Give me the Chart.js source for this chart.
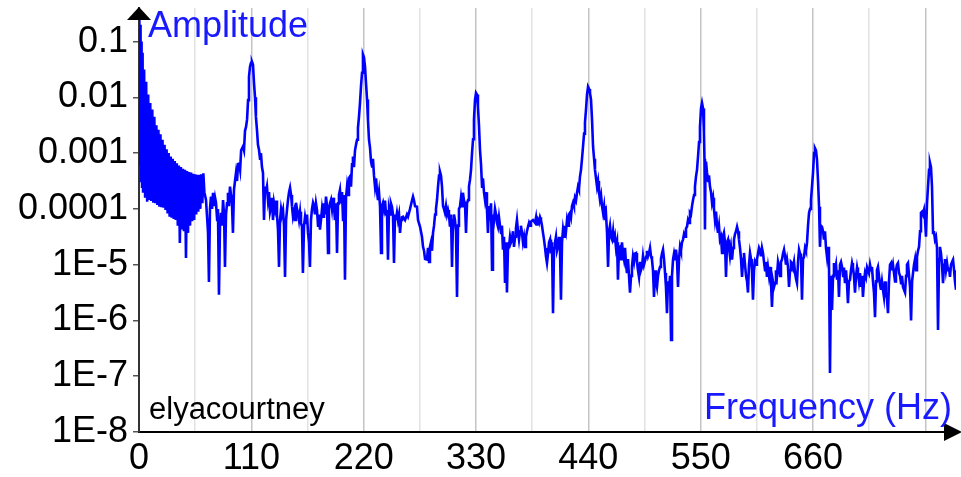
<!DOCTYPE html>
<html>
<head>
<meta charset="utf-8">
<script src="https://cdn.jsdelivr.net/npm/chart.js@4.4.1/dist/chart.umd.min.js"></script>
<style>
  html, body { margin: 0; padding: 0; background: #fff; }
  #wrap { width: 961px; height: 477px; position: relative; }
</style>
</head>
<body>
<div id="wrap"><canvas id="spectrum"></canvas></div>
<script>
// spectrum: [frequency Hz, log10 amplitude]
const lowEnd = [
  [0.3,-0.46],[1,-3.2],[1.5,-0.7],[2,-3.5],[2.5,-1.0],[3,-3.6],[3.5,-1.2],[4,-3.71],
  [5,-1.5],[6,-3.8],[7,-1.72],[8,-3.87],[9,-1.95],[10,-3.84],[11,-2.1],[12,-3.86],
  [13,-2.22],[14,-3.89],[15,-2.35],[16,-3.9],[17,-2.5],[18,-3.93],[19,-2.58],[20,-3.96],
  [21,-2.66],[22,-3.97],[23,-2.76],[24,-3.98],[25,-2.85],[26,-4.02],[27,-2.93],[28,-4.08],
  [29,-3.0],[30,-4.14],[31,-3.06],[32,-4.16],[33,-3.1],[34,-4.18],[35,-3.14],[36,-4.2],
  [37,-3.18],[38,-4.3],[39,-3.22],[40,-4.61],[41,-3.25],[42,-4.37],[43,-3.28],[44,-4.4],
  [45,-3.3],[46,-4.88],[47,-3.32],[48,-4.43],[49,-3.34],[50,-4.3],[51,-3.35],[52,-4.22],
  [53,-3.37],[54,-4.2],[55,-3.38],[56,-4.1],[57,-3.39],[58,-4.05],[59,-3.39],[60,-4.0],
  [61,-3.38],[62,-3.9],[63,-3.36],[64,-3.7]
];
const band110 = [
  [65.6,-3.84],[66.5,-4.1],[67.6,-4.43],[68.5,-5.31],[69.5,-4.0],[70.5,-3.78],[71.5,-4.0],
  [72.5,-3.71],[73.5,-3.95],[74.5,-3.8],[75.4,-3.89],[76.5,-4.2],[77.3,-4.0],[78.3,-5.54],
  [79.3,-4.3],[80.3,-4.07],[81.3,-4.3],[82.3,-3.84],[83.3,-4.1],[84.2,-5.04],[85.2,-4.1],
  [86.2,-3.9],[87.1,-3.71],[88.1,-3.95],[89.1,-3.6],[90.1,-3.75],[91.0,-3.9],[92.0,-4.43],
  [93.0,-3.66],[94.0,-3.5],[95.0,-3.35],[96.0,-3.5],[97.0,-3.2],[97.9,-3.17],[99.0,-3.3],
  [100.0,-2.95],[101.8,-2.88],[102.8,-2.95],[103.8,-2.6],[104.8,-2.53],[105.8,-2.4],
  [106.8,-2.05],[107.7,-1.63],[108.7,-1.45],[109.7,-1.38],[110.6,-1.36],[111.6,-1.41],
  [112.6,-1.74],[113.6,-2.0],[114.5,-2.35],[115.5,-2.58],[116.5,-2.85],[117.5,-2.94],
  [118.5,-3.1],[119.4,-3.0],[120.4,-3.25],[121.4,-3.35],[122.4,-4.2],[123.4,-3.6],
  [124.3,-3.7],[125.3,-3.6],[126.3,-3.84],[127.3,-3.7],[128.3,-4.05],[129.3,-3.96],
  [130.2,-3.8],[131.2,-4.2],[132.2,-3.89],[133.2,-4.0],[134.2,-3.85],[135.1,-4.1],
  [136.1,-4.37],[137.1,-5.04],[138.1,-4.2],[139.1,-4.0],[140.0,-4.1],[141.0,-4.02],
  [142.0,-4.3],[143.0,-5.22],[144.0,-4.2],[145.0,-4.0],[145.9,-3.84],[146.9,-3.7],
  [147.9,-3.62],[148.9,-3.75],[149.8,-3.95],[150.8,-4.14],[151.8,-4.05],[152.8,-4.2],
  [153.7,-3.89],[154.7,-4.0],[155.7,-4.07],[156.7,-4.2],[157.7,-4.05],[158.6,-4.25],
  [159.6,-4.32],[160.5,-5.15],[161.6,-4.3],[162.6,-4.14],[163.6,-4.25],[164.5,-4.1],
  [165.5,-4.43]
];
const band220 = [
  [166.5,-4.6],[167.4,-5.04],[168.4,-4.2],[169.4,-4.0],[170.4,-3.89],[171.4,-3.95],
  [172.3,-4.1],[173.3,-3.9],[174.3,-4.02],[175.3,-4.3],[176.2,-4.1],[177.2,-4.37],
  [178.2,-4.2],[179.2,-4.0],[180.2,-4.14],[181.1,-3.9],[182.1,-4.1],[183.1,-3.78],
  [184.1,-3.95],[185.1,-4.79],[186.0,-4.0],[187.0,-3.9],[188.0,-3.84],[189.0,-4.0],
  [190.0,-3.8],[190.9,-3.96],[191.9,-4.2],[192.9,-3.9],[193.9,-4.79],[194.9,-3.9],
  [195.8,-3.75],[196.8,-3.66],[197.8,-3.9],[198.8,-3.7],[199.8,-4.2],[200.7,-3.75],
  [201.7,-5.27],[202.7,-3.8],[203.7,-3.6],[204.7,-3.75],[205.6,-3.45],[206.6,-3.42],
  [207.6,-3.6],[208.6,-3.2],[209.5,-3.06],[210.5,-3.25],[211.5,-2.95],[212.5,-2.85],
  [213.5,-2.76],[214.4,-2.55],[215.4,-2.35],[216.4,-2.1],[217.4,-1.8],[218.4,-1.56],
  [219.3,-1.23],[220.3,-1.28],[221.3,-1.45],[222.3,-1.75],[223.3,-2.04],[224.2,-2.4],
  [225.2,-2.76],[226.2,-2.9],[227.2,-3.15],[228.2,-3.24],[229.1,-3.1],[230.1,-3.4],
  [231.1,-3.6],[232.1,-3.45],[233.1,-3.7],[234.0,-3.84],[235.0,-3.7],[236.0,-3.95],
  [237.0,-4.79],[237.9,-3.95],[238.9,-3.89],[239.9,-4.0],[240.9,-3.85],[241.9,-4.1],
  [242.8,-4.02],[243.8,-4.91],[244.8,-4.0],[245.8,-4.1],[246.7,-3.9],[247.7,-3.96],
  [248.7,-4.1],[249.7,-4.97],[250.7,-4.1],[251.6,-4.2],[252.6,-4.07],[253.6,-4.2],
  [254.6,-4.1],[255.6,-4.43],[256.6,-4.2],[257.5,-4.15],[258.5,-4.14],[260.5,-4.2],
  [262.4,-4.1],[263.4,-4.14],[265.4,-4.0],[267.3,-3.85],[268.3,-3.78],[269.3,-3.85],
  [270.3,-3.95],[272.2,-3.96],[273.2,-4.2],[275.2,-4.32]
];
const band330 = [
  [277.1,-4.5],[278.1,-4.68],[279.1,-4.75],[280.1,-4.9],[282.0,-4.91],[283.0,-4.7],
  [284.0,-4.95],[284.9,-4.68],[285.9,-4.6],[286.9,-4.75],[287.9,-4.43],[288.9,-4.3],
  [289.9,-4.1],[290.8,-4.0],[291.8,-3.84],[292.8,-3.6],[293.8,-3.4],[294.7,-3.33],
  [295.7,-3.4],[296.7,-3.6],[297.7,-3.95],[298.6,-4.0],[299.6,-4.07],[300.6,-3.95],
  [301.6,-4.1],[302.6,-4.02],[303.5,-4.1],[304.5,-4.32],[305.5,-4.1],[306.5,-5.04],
  [307.5,-4.2],[308.4,-4.1],[309.4,-4.2],[310.4,-4.4],[311.4,-5.58],[312.4,-4.3],
  [313.3,-4.0],[314.3,-3.96],[315.3,-3.8],[316.3,-3.95],[317.2,-3.71],[318.2,-3.85],
  [319.2,-3.9],[320.2,-4.43],[321.2,-3.9],[322.2,-3.84],[323.1,-3.6],[324.1,-3.48],
  [325.1,-3.3],[326.1,-3.0],[327.1,-2.75],[328.0,-2.4],[329.0,-2.05],[330.0,-1.92],
  [331.0,-1.95],[331.9,-2.17],[332.9,-2.5],[333.9,-2.94],[334.9,-3.2],[335.9,-3.6],
  [336.8,-3.45],[337.8,-3.7],[338.8,-3.84],[339.8,-3.7],[340.7,-4.0],[341.7,-4.43],
  [342.7,-3.95],[343.7,-4.07],[344.7,-3.9],[345.7,-5.09],[346.6,-4.1],[347.6,-4.2],
  [348.6,-4.0],[349.6,-4.1],[350.5,-4.25],[351.5,-4.32],[352.5,-4.15],[353.5,-4.3],
  [354.5,-4.43],[355.4,-4.3],[356.4,-4.73],[357.4,-4.5],[358.4,-5.33],[359.4,-4.6],
  [360.3,-5.5],[361.3,-4.7],[362.3,-4.68],[363.3,-4.5],[364.2,-4.6],[365.2,-4.55],
  [366.2,-4.4],[367.2,-4.68],[368.2,-4.5],[369.1,-4.35],[370.1,-4.2],[371.1,-4.4],
  [372.1,-4.55],[373.1,-4.4],[374.0,-4.3],[375.0,-4.43],[376.0,-4.6],[377.0,-4.5],
  [378.0,-4.68],[378.9,-4.5],[379.9,-4.4],[380.9,-4.32],[381.9,-4.25],[382.9,-4.3],
  [383.8,-4.23],[385.8,-4.2]
];
const band440 = [
  [387.8,-4.25],[388.8,-4.15],[389.7,-4.3],[390.7,-4.2],[391.7,-4.25],[392.7,-4.15],
  [393.6,-4.2],[394.6,-4.3],[395.6,-4.43],[396.6,-4.55],[397.6,-4.7],[398.5,-4.85],
  [399.5,-4.97],[400.5,-4.8],[401.5,-4.6],[402.5,-4.55],[403.4,-4.8],[404.4,-4.6],
  [405.4,-5.87],[406.4,-4.7],[407.3,-4.61],[408.3,-4.5],[409.3,-4.75],[410.3,-4.68],
  [411.3,-4.5],[412.2,-4.7],[413.2,-5.63],[414.2,-4.6],[415.2,-4.37],[416.2,-4.5],
  [417.1,-4.3],[418.1,-4.4],[419.1,-4.2],[420.1,-4.3],[421.0,-4.1],[422.0,-4.07],
  [423.0,-4.15],[424.0,-3.95],[425.0,-3.89],[425.9,-3.95],[426.9,-3.8],[427.9,-3.85],
  [428.9,-3.71],[429.9,-3.6],[430.8,-3.65],[431.8,-3.42],[432.8,-3.3],[433.8,-3.1],
  [434.8,-2.88],[435.8,-2.65],[436.7,-2.45],[437.7,-2.22],[438.7,-1.95],[439.7,-1.81],
  [440.7,-1.85],[441.6,-1.92],[442.6,-2.04],[443.6,-2.4],[444.6,-2.88],[445.6,-3.1],
  [446.5,-3.3],[447.5,-3.45],[448.5,-3.6],[449.5,-3.5],[450.4,-3.7],[451.4,-3.84],
  [452.4,-3.75],[453.4,-3.95],[454.4,-4.07],[455.4,-3.95],[456.3,-4.2],[457.3,-4.1],
  [458.3,-4.43],[459.3,-5.04],[460.3,-4.4],[461.2,-4.3],[462.2,-4.5],[463.2,-4.55],
  [464.2,-4.4],[465.1,-4.6],[466.1,-4.5],[467.1,-4.7],[468.1,-4.6],[469.0,-5.27],
  [470.0,-4.7],[471.0,-4.68],[472.0,-4.9],[472.9,-4.6],[473.9,-4.79],[474.9,-4.9],
  [475.9,-4.7],[476.9,-5.0],[477.8,-5.15],[478.8,-4.9],[479.8,-5.2],[480.8,-5.5],
  [481.8,-5.2],[482.7,-5.04],[483.7,-4.85],[484.7,-4.95],[485.7,-4.8],[486.7,-4.79],
  [487.6,-4.95],[488.6,-5.1],[489.6,-5.22],[490.6,-4.95],[491.5,-5.1],[492.5,-5.04],
  [493.5,-4.85],[494.5,-5.0]
];
const band550 = [
  [496.5,-4.86],[497.4,-4.75],[498.4,-4.85],[499.4,-4.79],[500.4,-4.7],[501.4,-4.85],
  [502.3,-4.91],[503.3,-5.1],[504.3,-5.58],[505.3,-5.1],[506.2,-5.3],[507.2,-5.4],
  [508.2,-5.2],[509.2,-5.1],[510.2,-5.04],[511.1,-4.9],[512.1,-4.8],[513.1,-4.73],
  [514.1,-4.9],[515.1,-5.15],[516.0,-5.4],[517.0,-5.87],[518.0,-5.3],[519.0,-5.45],
  [520.0,-5.2],[521.0,-6.35],[521.9,-5.2],[522.9,-4.91],[523.9,-4.8],[524.9,-4.9],
  [525.8,-4.73],[526.8,-4.9],[527.8,-5.4],[528.8,-4.9],[529.8,-4.68],[530.7,-4.75],
  [531.7,-4.6],[532.7,-4.55],[533.7,-4.45],[534.7,-4.5],[535.6,-4.35],[536.6,-4.32],
  [537.6,-4.2],[538.6,-4.25],[539.5,-4.07],[540.5,-4.1],[541.5,-3.95],[542.5,-3.84],
  [543.5,-3.75],[544.4,-3.6],[545.4,-3.42],[546.4,-3.3],[547.4,-3.06],[548.4,-2.8],
  [549.3,-2.53],[550.3,-2.2],[551.3,-2.1],[552.3,-2.2],[553.2,-2.63],[553.7,-3.1],
  [554.2,-4.37],[554.7,-3.2],[555.2,-3.15],[556.2,-3.35],[557.2,-3.5],[558.1,-3.4],
  [559.1,-3.6],[560.1,-3.7],[561.1,-3.89],[562.1,-3.8],[563.0,-4.0],[564.0,-4.2],
  [565.0,-4.05],[566.0,-4.3],[566.9,-4.43],[567.9,-4.3],[568.9,-4.55],[569.9,-4.5],
  [570.9,-4.79],[571.8,-4.5],[572.8,-4.43],[573.8,-4.6],[574.8,-5.22],[575.8,-4.6],
  [576.8,-4.55],[577.7,-4.7],[578.7,-4.85],[579.7,-4.7],[580.7,-4.91],[581.7,-4.7],
  [582.6,-4.55],[583.6,-4.45],[584.6,-4.4],[585.6,-4.32],[586.6,-4.4],[587.5,-4.55],
  [588.5,-4.7],[589.5,-4.9],[590.5,-5.22],[591.5,-4.9],[592.4,-4.79],[593.4,-5.0],
  [594.4,-5.2],[595.4,-5.3],[596.3,-5.5],[597.3,-5.0],[598.3,-4.79],[599.3,-4.9],
  [600.2,-5.1],[601.2,-5.63],[602.2,-5.1],[603.2,-4.95],[604.2,-5.0],[605.1,-4.91]
];
const band660 = [
  [606.1,-4.8],[607.1,-4.7],[608.1,-4.75],[609.0,-4.85],[610.0,-4.7],[611.0,-4.79],
  [612.0,-4.95],[613.0,-5.1],[613.9,-4.95],[614.9,-5.22],[615.9,-5.05],[616.9,-5.2],
  [617.9,-5.04],[618.8,-5.3],[619.8,-5.76],[620.8,-5.3],[621.8,-5.4],[622.8,-5.33],
  [623.7,-5.1],[624.7,-5.2],[625.7,-4.95],[626.7,-5.04],[627.7,-5.2],[628.6,-4.95],
  [629.6,-4.91],[630.6,-4.8],[631.6,-4.73],[632.6,-4.85],[633.5,-5.0],[634.5,-4.9],
  [635.5,-5.04],[636.5,-5.4],[637.5,-5.1],[638.4,-4.95],[639.4,-4.97],[640.4,-5.05],
  [641.4,-4.95],[642.4,-5.15],[643.3,-5.25],[644.3,-5.33],[645.3,-4.95],[646.3,-4.73],
  [647.3,-4.8],[648.2,-4.86],[649.2,-5.63],[650.2,-4.9],[651.2,-4.86],[652.2,-4.7],
  [653.1,-4.75],[654.1,-4.61],[655.1,-4.3],[656.1,-4.07],[657.1,-4.0],[658.0,-3.84],
  [659.0,-3.6],[660.0,-3.35],[661.0,-3.0],[661.9,-2.91],[662.9,-2.95],[663.9,-3.12],
  [664.9,-3.5],[665.9,-3.96],[666.8,-4.68],[667.8,-4.3],[668.8,-4.32],[669.8,-4.4],
  [670.7,-4.55],[671.7,-4.4],[672.7,-4.7],[673.7,-4.86],[674.7,-4.68],[675.6,-4.9],
  [676.6,-6.94],[677.6,-5.2],[678.6,-5.81],[679.6,-5.2],[680.5,-4.97],[681.5,-5.1],
  [682.5,-5.0],[683.5,-5.27],[684.5,-5.1],[685.4,-5.58],[686.4,-5.0],[687.4,-4.95],
  [688.4,-5.04],[689.4,-5.2],[690.3,-5.05],[691.3,-5.33],[692.3,-5.1],[693.3,-5.35],
  [694.2,-5.69],[695.2,-5.3],[696.2,-5.27],[697.2,-5.1],[698.2,-4.97],[699.1,-5.05],
  [700.1,-5.2],[701.1,-5.5],[702.1,-5.2],[703.1,-5.05],[704.0,-5.15],[705.0,-5.3],
  [706.0,-5.15],[707.0,-5.4],[708.0,-5.2],[708.9,-5.58],[709.9,-5.3],[710.9,-5.15],
  [711.9,-5.22],[712.9,-5.05],[713.8,-5.1],[714.8,-5.15]
];
const band770 = [
  [715.8,-5.0],[716.8,-5.1],[717.7,-5.04],[718.7,-5.3],[719.7,-5.5],[720.7,-5.94],
  [721.7,-5.3],[722.6,-5.1],[723.6,-5.04],[724.6,-5.2],[725.6,-5.35],[726.5,-5.45],
  [727.5,-5.3],[728.5,-5.45],[729.5,-5.58],[730.5,-5.3],[731.4,-5.5],[732.4,-5.6],
  [733.4,-5.87],[734.4,-5.3],[735.4,-5.0],[736.4,-4.97],[737.3,-5.1],[738.3,-5.0],
  [739.3,-5.15],[740.3,-5.3],[741.2,-5.1],[742.2,-5.0],[743.2,-4.97],[744.2,-5.15],
  [745.2,-5.2],[746.2,-5.33],[747.1,-5.2],[748.1,-5.4],[749.1,-5.45],[750.1,-5.5],
  [751.1,-5.2],[752.0,-5.0],[753.0,-4.97],[754.0,-5.2],[755.0,-5.4],[756.0,-6.0],
  [757.0,-5.3],[757.9,-5.15],[758.9,-5.0],[759.9,-4.9],[760.9,-5.1],[761.8,-4.86],
  [762.8,-4.75],[763.8,-4.68],[764.8,-4.4],[765.7,-4.07],[766.7,-4.05],[767.7,-4.1],
  [768.7,-4.02],[769.7,-4.2],[770.6,-4.5],[771.6,-3.9],[772.6,-3.6],[773.6,-3.3],
  [774.5,-3.17],[775.5,-3.25],[776.5,-3.6],[777.5,-4.43],[778.4,-4.4],[779.4,-4.55],
  [780.4,-4.5],[781.4,-4.7],[782.4,-6.17],[783.4,-4.9],[784.3,-4.68],[785.3,-4.8],
  [786.3,-5.0],[787.3,-5.33],[788.3,-5.0],[789.2,-4.9],[790.2,-5.1],[791.2,-4.97],
  [792.2,-5.1],[793.1,-5.05],[794.1,-5.22],[795.1,-5.0],[796.1,-4.95],[797.1,-4.91],
  [798.1,-5.1],[799.0,-5.3],[800.0,-5.45]
];

const yTickValues = [1e-1, 1e-2, 1e-3, 1e-4, 1e-5, 1e-6, 1e-7, 1e-8];
const yTickLabels = ['0.1', '0.01', '0.001', '0.0001', '1E-5', '1E-6', '1E-7', '1E-8'];
const xGridStep = 55;
const xLabelStep = 110;
const xLastLabel = 660;

const spectrum = [].concat(lowEnd, band110, band220, band330, band440, band550, band660, band770)
  .map(p => ({ x: p[0], y: Math.pow(10, p[1]) }));

const FONT = '"Liberation Sans", Arial, sans-serif';

const decorations = {
  id: 'decorations',
  afterDraw(chart) {
    const ctx = chart.ctx;
    const a = chart.chartArea;
    ctx.save();
    // axis arrows
    ctx.fillStyle = '#000';
    ctx.beginPath();
    ctx.moveTo(a.left, a.top - 1);
    ctx.lineTo(a.left - 12, a.top + 12);
    ctx.lineTo(a.left + 12, a.top + 12);
    ctx.closePath();
    ctx.fill();
    ctx.beginPath();
    ctx.moveTo(a.right + 6, a.bottom);
    ctx.lineTo(a.right - 12, a.bottom - 9);
    ctx.lineTo(a.right - 12, a.bottom + 9);
    ctx.closePath();
    ctx.fill();
    // axis names
    ctx.fillStyle = 'rgb(25,25,255)';
    ctx.font = '36px ' + FONT;
    ctx.textBaseline = 'alphabetic';
    ctx.textAlign = 'left';
    ctx.fillText('Amplitude', a.left + 9, 37);
    ctx.textAlign = 'right';
    ctx.fillText('Frequency (Hz)', a.right - 4, 419);
    ctx.fillStyle = '#000';
    ctx.font = '31px ' + FONT;
    ctx.textAlign = 'left';
    ctx.fillText('elyacourtney', a.left + 10, 419);
    ctx.restore();
  }
};

new Chart(document.getElementById('spectrum'), {
  type: 'line',
  data: {
    datasets: [{
      data: spectrum,
      borderColor: '#0000ff',
      borderWidth: 2.6,
      pointRadius: 0,
      tension: 0,
      fill: false
    }]
  },
  options: {
    responsive: true,
    maintainAspectRatio: false,
    animation: false,
    layout: { padding: { top: 8, right: 5, left: 0, bottom: 0 } },
    plugins: { legend: { display: false }, tooltip: { enabled: false } },
    scales: {
      x: {
        type: 'linear',
        min: 0,
        max: 800,
        afterFit(scale) {
          scale.height = 45;
          scale.paddingLeft = 0;
          scale.paddingRight = 0;
        },
        afterBuildTicks(scale) {
          const t = [];
          for (let v = 0; v <= 770; v += xGridStep) t.push({ value: v });
          scale.ticks = t;
        },
        ticks: {
          autoSkip: false,
          maxRotation: 0,
          padding: 5,
          color: '#000',
          font: { family: FONT, size: 36 },
          callback: v => (v % xLabelStep === 0 && v <= xLastLabel) ? String(v) : ''
        },
        grid: {
          drawTicks: false,
          lineWidth: 1.5,
          color: c => c.tick.value === 0 ? 'rgba(0,0,0,0)' : (c.tick.value % xLabelStep === 0 ? '#c4c4c4' : '#e2e2e2')
        },
        border: { color: '#000', width: 2 }
      },
      y: {
        type: 'logarithmic',
        min: 1e-8,
        max: 0.4,
        afterFit(scale) {
          scale.width = 139;
          scale.paddingTop = 0;
          scale.paddingBottom = 0;
        },
        afterBuildTicks(scale) {
          scale.ticks = yTickValues.map(v => ({ value: v }));
        },
        ticks: {
          autoSkip: false,
          padding: 5,
          color: '#000',
          font: { family: FONT, size: 36 },
          callback: v => {
            const i = yTickValues.findIndex(t => Math.abs(Math.log10(t) - Math.log10(v)) < 1e-6);
            return i >= 0 ? yTickLabels[i] : '';
          }
        },
        grid: { drawOnChartArea: false, drawTicks: true, tickLength: 6, color: '#555', lineWidth: 1.5 },
        border: { color: '#333', width: 2 }
      }
    }
  },
  plugins: [decorations]
});
</script>
</body>
</html>
